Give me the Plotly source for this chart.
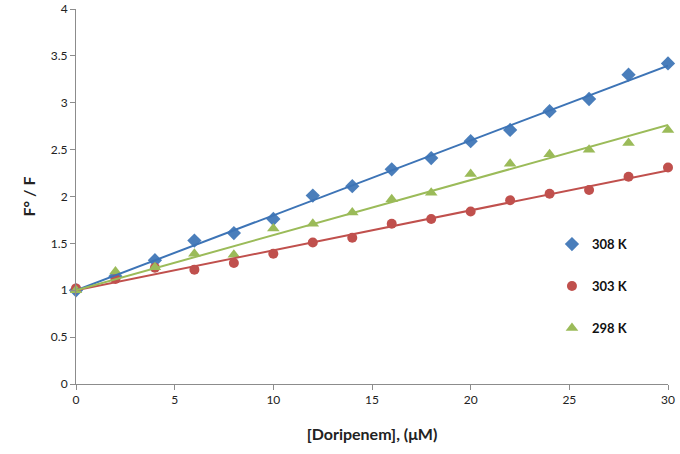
import numpy as np
import plotly.graph_objects as go

conc = [0, 2, 4, 6, 8, 10, 12, 14, 16, 18, 20, 22, 24, 26, 28, 30]
k308 = [1.00, 1.15, 1.32, 1.53, 1.61, 1.76, 2.01, 2.11, 2.29, 2.41, 2.59, 2.71, 2.91, 3.04, 3.30, 3.42]
k303 = [1.02, 1.12, 1.24, 1.22, 1.29, 1.39, 1.51, 1.56, 1.71, 1.76, 1.84, 1.96, 2.03, 2.07, 2.21, 2.31]
k298 = [1.00, 1.20, 1.245, 1.39, 1.38, 1.66, 1.71, 1.83, 1.97, 2.04, 2.24, 2.35, 2.45, 2.50, 2.57, 2.71]
labels = ["308 K", "303 K", "298 K"]
xticks = [0, 5, 10, 15, 20, 25, 30]
yticks = [0, 0.5, 1, 1.5, 2, 2.5, 3, 3.5, 4]
ytick_text = ["0", "0.5", "1", "1.5", "2", "2.5", "3", "3.5", "4"]

series = [k308, k303, k298]
marker_colors = ["#4A7EBB", "#C0504D", "#9BBB59"]
line_colors = ["#3D74B6", "#C0504D", "#9BBB59"]
symbols = ["diamond", "circle", "triangle-up"]
sizes = [11, 10, 11]

fig = go.Figure()
x = np.array(conc, dtype=float)
for i, (ys, lab) in enumerate(zip(series, labels)):
    fig.add_trace(go.Scatter(
        x=conc, y=ys, mode="markers", name=lab,
        legendgroup=lab,
        marker=dict(symbol=symbols[i], size=sizes[i], color=marker_colors[i]),
        cliponaxis=False,
    ))
for i, (ys, lab) in enumerate(zip(series, labels)):
    y = np.array(ys, dtype=float)
    slope = np.sum(x * (y - 1.0)) / np.sum(x * x)
    xs = [conc[0], conc[-1]]
    fig.add_trace(go.Scatter(
        x=xs, y=[1.0 + slope * v for v in xs], mode="lines",
        line=dict(color=line_colors[i], width=2),
        showlegend=False, hoverinfo="skip", cliponaxis=False,
    ))

axis_common = dict(
    showline=True, linecolor="#8C8C8C", linewidth=1,
    ticks="outside", tickcolor="#8C8C8C", ticklen=5,
    showgrid=False, zeroline=False, automargin=False,
    tickfont=dict(family="Lato", size=12, color="#222222"),
)
fig.update_layout(
    width=680, height=454,
    margin=dict(l=76, r=12, t=9, b=70),
    paper_bgcolor="white", plot_bgcolor="white",
    xaxis=dict(range=[0, 30], tickvals=xticks, **axis_common,
               title=dict(text="<b>[Doripenem], (μM)</b>",
                          font=dict(family="Lato", size=16, color="#222222"),
                          standoff=22)),
    yaxis=dict(range=[0, 4], tickvals=yticks, ticktext=ytick_text, **axis_common,
               title=dict(text="<b>F° / F</b>",
                          font=dict(family="Lato", size=16, color="#222222"),
                          standoff=11)),
    legend=dict(x=0.804, y=0.413, xanchor="left", yanchor="top",
                bgcolor="rgba(0,0,0,0)", tracegroupgap=22, traceorder="grouped",
                font=dict(family="Lato", size=13, color="#111111", weight=700),
                itemwidth=30),
    showlegend=True,
)
fig.write_html("out.html", config={"displayModeBar": False},
               post_script="document.body.style.margin='0';")
